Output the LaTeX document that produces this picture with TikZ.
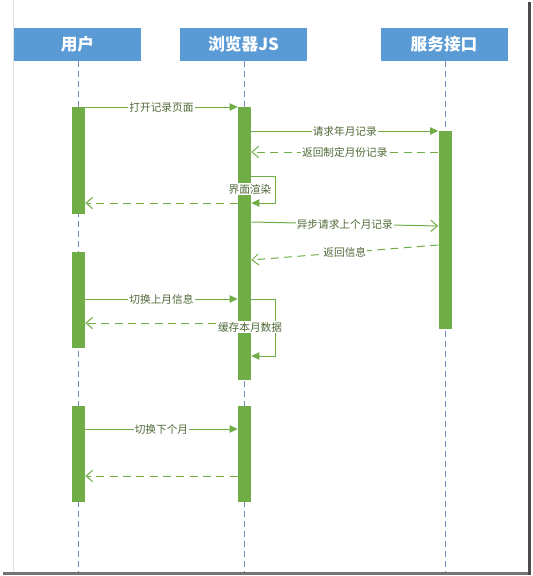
\documentclass[tikz,border=0pt]{standalone}
\usepackage{fontspec}
\setmainfont{Liberation Sans}
\newfontfamily\cjk{Noto Sans CJK SC}
\usetikzlibrary{arrows.meta}
\definecolor{hdr}{RGB}{91,155,213}
\definecolor{act}{RGB}{112,173,71}
\definecolor{lbl}{RGB}{80,105,55}
\definecolor{life}{RGB}{110,140,190}
\begin{document}
\begin{tikzpicture}[x=0.75pt,y=-0.75pt,
  head/.style={fill=hdr, text=white, font=\cjk\bfseries\fontsize{12.5}{14}\selectfont,
    minimum width=95.25pt, minimum height=24.75pt, inner sep=0pt},
  actbar/.style={fill=act, minimum width=9.75pt, inner sep=0pt, anchor=north},
  lifeline/.style={draw=life, line width=0.7pt, dash pattern=on 4.5pt off 3pt},
  msg/.style={draw=act, line width=0.75pt, -{Triangle[length=6pt,width=5.5pt]}},
  ret/.style={draw=act, line width=0.75pt, dash pattern=on 6pt off 4pt, -{Straight Barb[length=5pt,width=8.5pt]}},
  amsg/.style={draw=act, line width=0.75pt, -{Straight Barb[length=5pt,width=8.5pt]}},
  lab/.style={fill=white, text=lbl, font=\cjk\fontsize{8}{9.5}\selectfont, inner sep=0.8pt}]
\useasboundingbox (0,0) rectangle (533,576);
% frame
\draw[black!12, line width=0.75pt] (13,0) -- (13,571);
\fill[black!55] (3,571.5) rectangle (531,575);
\fill[black!70] (528,2) rectangle (531,575);
% headers
\node[head] (hU) at (77.5,44.5) {用户};
\node[head] (hJ) at (243.5,44.5) {浏览器JS};
\node[head] (hS) at (444,44.5) {服务接口};
% lifelines
\coordinate (eU) at (78,572);
\coordinate (eJ) at (244.5,572);
\coordinate (eS) at (445,572);
\draw[lifeline] (hU.south -| eU) -- (eU);
\draw[lifeline] (hJ.south -| eJ) -- (eJ);
\draw[lifeline] (hS.south -| eS) -- (eS);
% activation bars
\node[actbar, minimum height=80.25pt] (u1) at (78.5,107) {};
\node[actbar, minimum height=72pt] (u2) at (78.5,252) {};
\node[actbar, minimum height=72pt] (u3) at (78.5,406) {};
\node[actbar, minimum height=204.75pt] (j1) at (244.5,107) {};
\node[actbar, minimum height=72pt] (j2) at (244.5,406) {};
\node[actbar, minimum height=148.5pt] (s1) at (445,131) {};
% y levels
\foreach \n/\v in {a/107,b/131,c/152,d/176,e/203,f/222,g/226,h/245,i/260,k/299,l/356,m/323,n/429,o/476}
  \coordinate (y\n) at (0,\v);
\coordinate (la1) at (275,176);
\coordinate (la2) at (275,203);
\coordinate (lb1) at (275,299);
\coordinate (lb2) at (275,356);
\coordinate (rm) at (216,323);
% messages
\draw[msg] (u1.east |- ya) -- node[lab]{打开记录页面} (j1.west |- ya);
\draw[msg] (j1.east |- yb) -- node[lab]{请求年月记录} (s1.west |- yb);
\draw[ret] (s1.west |- yc) -- node[lab]{返回制定月份记录} (j1.east |- yc);
\draw[msg] (j1.east |- yd) -- (la1) -- (la2) -- (j1.east |- ye);
\node[lab] (t1) at (250,189) {界面渲染};
\draw[ret] (j1.west |- ye) -- (u1.east |- ye);
\draw[amsg] (j1.east |- yf) -- node[lab]{异步请求上个月记录} (s1.west |- yg);
\draw[ret] (s1.west |- yh) -- node[lab]{返回信息} (j1.east |- yi);
\draw[msg] (u2.east |- yk) -- node[lab]{切换上月信息} (j1.west |- yk);
\draw[msg] (j1.east |- yk) -- (lb1) -- (lb2) -- (j1.east |- yl);
\draw[ret] (rm) -- (u2.east |- ym);
\node[lab] (t2) at (250,327) {缓存本月数据};
\draw[msg] (u3.east |- yn) -- node[lab]{切换下个月} (j2.west |- yn);
\draw[ret] (j2.west |- yo) -- (u3.east |- yo);
\end{tikzpicture}
\end{document}
